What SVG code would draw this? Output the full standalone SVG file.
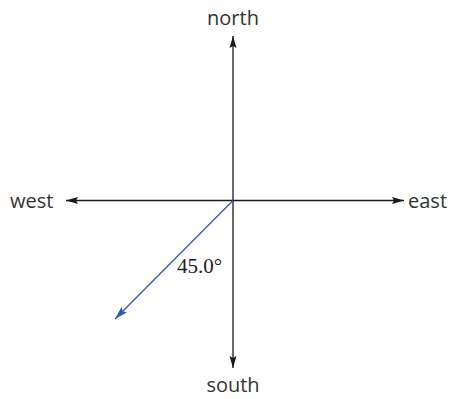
<svg xmlns="http://www.w3.org/2000/svg" width="453" height="399" viewBox="0 0 453 399">
<style>
.lbl{font-family:"Open Sans","Noto Sans",sans-serif;font-size:20px;fill:#333}
.ax{stroke:#1a1a1a;stroke-width:1.3;fill:none}
</style>
<defs>
<marker id="ah" viewBox="0 0 12 8" refX="12" refY="4" markerWidth="12" markerHeight="8" markerUnits="userSpaceOnUse" orient="auto">
<path d="M0,0.5 L12,4 L0,7.5 L2,4 Z" fill="#1a1a1a"/>
</marker>
<marker id="ahb" viewBox="0 0 12 8" refX="12" refY="4" markerWidth="13" markerHeight="9" markerUnits="userSpaceOnUse" orient="auto">
<path d="M0,0.5 L12,4 L0,7.5 L2,4 Z" fill="#2a5cb0"/>
</marker>
</defs>
<g id="connectors">
<line class="ax" x1="233" y1="200.5" x2="233" y2="36" marker-end="url(#ah)"/>
<line class="ax" x1="233" y1="200.5" x2="233" y2="368" marker-end="url(#ah)"/>
<line class="ax" x1="233" y1="200.5" x2="66" y2="200.5" marker-end="url(#ah)"/>
<line class="ax" x1="233" y1="200.5" x2="404" y2="200.5" marker-end="url(#ah)"/>
<line x1="233" y1="200.5" x2="115" y2="319" stroke="#2a5cb0" stroke-width="1.3" marker-end="url(#ahb)"/>
</g>
<g id="north"><text class="lbl" x="233" y="25" text-anchor="middle">north</text></g>
<g id="south"><text class="lbl" x="233" y="392" text-anchor="middle">south</text></g>
<g id="west"><text class="lbl" x="10" y="208">west</text></g>
<g id="east"><text class="lbl" x="408" y="208">east</text></g>
<g id="angle"><text x="177" y="273" style="font-family:'Liberation Serif','Times New Roman','DejaVu Serif',serif;font-size:21px" fill="#222">45.0°</text></g>
</svg>
